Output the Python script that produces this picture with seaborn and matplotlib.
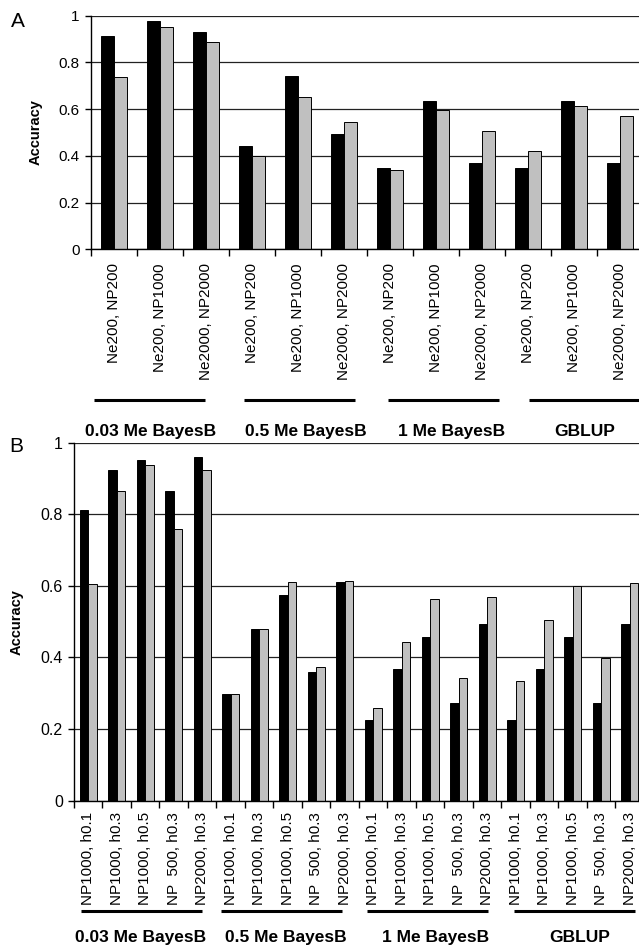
import numpy as np
import pandas as pd
import matplotlib
matplotlib.use("Agg")
import matplotlib.pyplot as plt
import seaborn as sns

# methods (groups along the x axis, same for both panels)
methods = ["0.03 Me BayesB", "0.5 Me BayesB", "1 Me BayesB", "GBLUP"]

# panel A: population scenarios
a_labels = ["Ne200, NP200", "Ne200, NP1000", "Ne2000, NP2000"]
a_black = [0.914, 0.979, 0.930, 0.444, 0.743, 0.492, 0.348, 0.636, 0.369, 0.348, 0.636, 0.369]
a_grey = [0.737, 0.951, 0.887, 0.398, 0.652, 0.545, 0.341, 0.596, 0.506, 0.421, 0.613, 0.572]

# panel B: reference size / heritability scenarios
b_labels = ["NP1000, h0.1", "NP1000, h0.3", "NP1000, h0.5", "NP  500, h0.3", "NP2000, h0.3"]
b_black = [0.813, 0.924, 0.951, 0.864, 0.960,
           0.299, 0.480, 0.575, 0.359, 0.610,
           0.224, 0.369, 0.457, 0.272, 0.493,
           0.224, 0.369, 0.457, 0.272, 0.493]
b_grey = [0.605, 0.864, 0.937, 0.759, 0.924,
          0.297, 0.480, 0.610, 0.372, 0.613,
          0.259, 0.444, 0.563, 0.342, 0.568,
          0.335, 0.505, 0.600, 0.399, 0.607]

y_ticks = [0, 0.2, 0.4, 0.6, 0.8, 1.0]
y_ticklabels = ["0", "0.2", "0.4", "0.6", "0.8", "1"]

# hand placement of the group bars/names in the original (pixels, relative to group centre)
a_line_nudge = [-10, 2, 8, 11]
a_text_nudge = [-9, 8, 16, 11]
b_line_nudge = [-4, -6, -3, 2]
b_text_nudge = [-5, -2, 5, 7]

sns.set_style("white", {"axes.edgecolor": "black", "xtick.bottom": True, "ytick.left": True})
plt.rcParams["font.family"] = ["Liberation Sans", "DejaVu Sans"]
plt.rcParams["text.color"] = "black"
plt.rcParams["axes.labelcolor"] = "black"
plt.rcParams["xtick.color"] = "black"
plt.rcParams["ytick.color"] = "black"


def make_frame(labels, black, grey):
    n = len(labels)
    rows = []
    for i, (b, g) in enumerate(zip(black, grey)):
        method = methods[i // n]
        key = method + " | " + labels[i % n]
        rows.append({"key": key, "label": labels[i % n], "series": "black", "acc": b})
        rows.append({"key": key, "label": labels[i % n], "series": "grey", "acc": g})
    return pd.DataFrame(rows)


def draw_panel(ax, df, per_group, bar_width, label_pad, ytick_size,
               line_y, text_y, line_frac, ylab_x, cat_px, line_nudge, text_nudge):
    order = list(dict.fromkeys(df["key"]))
    n = len(order)
    sns.barplot(data=df, x="key", y="acc", hue="series", order=order,
                hue_order=["black", "grey"], palette=["black", "#c0c0c0"],
                saturation=1, width=bar_width, gap=0, errorbar=None,
                edgecolor="black", linewidth=0.7, legend=False, ax=ax)
    ax.set_axisbelow(True)
    ax.yaxis.grid(True, color="#222222", linewidth=0.9)
    ax.xaxis.grid(False)
    ax.set_ylim(0, 1)
    ax.set_yticks(y_ticks)
    ax.set_yticklabels(y_ticklabels, fontsize=ytick_size)
    ax.tick_params(axis="y", length=4, width=1, pad=4, direction="out")

    ax.set_xlim(-0.5, n - 0.5)
    ax.set_xticks(np.arange(n + 1) - 0.5)
    ax.set_xticklabels([])
    ax.set_xticks(np.arange(n), minor=True)
    ax.set_xticklabels(df.drop_duplicates("key")["label"], minor=True,
                       rotation=90, fontsize=11)
    ax.tick_params(axis="x", which="major", length=5, width=1, direction="out")
    ax.tick_params(axis="x", which="minor", length=0, pad=label_pad)

    for s in ["top", "right"]:
        ax.spines[s].set_visible(False)
    for s in ["left", "bottom"]:
        ax.spines[s].set_color("black")
        ax.spines[s].set_linewidth(1)

    ax.set_xlabel("")
    ax.set_ylabel("Accuracy", fontweight="bold", fontsize=10.5)
    ax.yaxis.set_label_coords(ylab_x, 0.5)

    # group bars + names under the category labels
    trans = ax.get_xaxis_transform()
    for g, method in enumerate(methods):
        center = g * per_group - 0.5 + per_group / 2
        half = line_frac * per_group / 2
        lc = center + line_nudge[g] / cat_px
        ax.plot([lc - half, lc + half], [line_y, line_y], transform=trans,
                clip_on=False, color="black", lw=2.2, solid_capstyle="butt")
        ax.text(center + text_nudge[g] / cat_px, text_y, method, transform=trans,
                ha="center", va="center", fontweight="bold", fontsize=12.5)


fig = plt.figure(figsize=(6.39, 9.51), dpi=100)

ax_a = fig.add_axes([0.1419, 0.7379, 0.8638, 0.2456])
draw_panel(ax_a, make_frame(a_labels, a_black, a_grey), len(a_labels),
           bar_width=0.565, label_pad=10, ytick_size=11,
           line_y=-0.645, text_y=-0.781, line_frac=0.8, ylab_x=-0.0864,
           cat_px=46, line_nudge=a_line_nudge, text_nudge=a_text_nudge)

ax_b = fig.add_axes([0.1158, 0.1581, 0.892, 0.3764])
draw_panel(ax_b, make_frame(b_labels, b_black, b_grey), len(b_labels),
           bar_width=0.6, label_pad=8, ytick_size=11.5,
           line_y=-0.3095, text_y=-0.3827, line_frac=0.85, ylab_x=-0.0877,
           cat_px=28.5, line_nudge=b_line_nudge, text_nudge=b_text_nudge)

fig.text(17.5 / 639, 1 - 21.7 / 951, "A", fontsize=15, ha="center", va="center")
fig.text(15.8 / 639, 1 - 446.7 / 951, "B", fontsize=15, ha="center", va="center")

fig.savefig("out.png", dpi=100)
